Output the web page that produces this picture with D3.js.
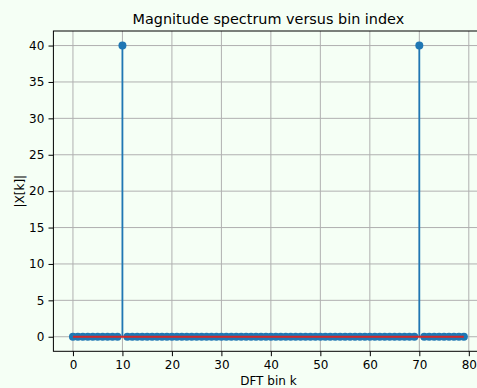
<!DOCTYPE html>
<html><head><meta charset="utf-8">
<script src="https://cdn.jsdelivr.net/npm/d3@7"></script>
<style>
html,body{margin:0;padding:0;background:#f5fff5;}
svg{display:block;font-family:"DejaVu Sans",sans-serif;}
</style></head>
<body><svg id="c" width="477" height="388"></svg>
<script>
const title = "Magnitude spectrum versus bin index";
const xLabel = "DFT bin k";
const yLabel = "|X[k]|";
const bins = d3.range(0, 80);
const peakBins = [10, 70];
const peakValue = 40;
const magnitudes = bins.map(k => peakBins.includes(k) ? peakValue : 0);
const xTicks = [0, 10, 20, 30, 40, 50, 60, 70, 80];
const yTicks = [0, 5, 10, 15, 20, 25, 30, 35, 40];

const svg = d3.select("#c");
const L = 53.4, R = 483.4, T = 31, B = 351.3;
const x = d3.scaleLinear().domain([-3.95, 82.95]).range([L, R]);
const y = d3.scaleLinear().domain([-2, 42]).range([B, T]);

svg.append("rect").attr("width", 477).attr("height", 388).attr("fill", "#f5fff5");

// grid
const g = svg.append("g");
g.selectAll(".gx").data(xTicks).join("line")
  .attr("x1", d => x(d)).attr("x2", d => x(d)).attr("y1", T).attr("y2", B)
  .attr("stroke", "#b0b0b0").attr("stroke-width", 1);
g.selectAll(".gy").data(yTicks).join("line")
  .attr("y1", d => y(d)).attr("y2", d => y(d)).attr("x1", L).attr("x2", R)
  .attr("stroke", "#b0b0b0").attr("stroke-width", 1);

// stems
svg.append("g").selectAll("line").data(bins).join("line")
  .attr("x1", d => x(d)).attr("x2", d => x(d))
  .attr("y1", y(0)).attr("y2", (d, i) => y(magnitudes[i]))
  .attr("stroke", "#1f77b4").attr("stroke-width", 1.8);

// markers
svg.append("g").selectAll("circle").data(bins).join("circle")
  .attr("cx", d => x(d)).attr("cy", (d, i) => y(magnitudes[i]))
  .attr("r", 4).attr("fill", "#1f77b4");

// baseline
svg.append("line")
  .attr("x1", x(bins[0])).attr("x2", x(bins[bins.length - 1]))
  .attr("y1", y(0)).attr("y2", y(0))
  .attr("stroke", "#d62728").attr("stroke-width", 1.8);

// axes
const xAxis = d3.axisBottom(x).tickValues(xTicks).tickSize(4.9).tickPadding(4.2);
const yAxis = d3.axisLeft(y).tickValues(yTicks).tickSize(4.9).tickPadding(4.2);
const gx = svg.append("g").attr("transform", `translate(0,${B})`).call(xAxis);
const gy = svg.append("g").attr("transform", `translate(${L},0)`).call(yAxis);
[gx, gy].forEach(a => {
  a.select(".domain").remove();
  a.selectAll("line").attr("stroke", "#000").attr("stroke-width", 1);
  a.selectAll("text").attr("fill", "#000").style("font-size", "12px").style("font-family", "DejaVu Sans");
});
// spines
svg.append("rect").attr("x", L).attr("y", T).attr("width", R - L).attr("height", B - T)
  .attr("fill", "none").attr("stroke", "#000").attr("stroke-width", 1);

svg.append("text").attr("x", (L + R) / 2).attr("y", 24).attr("text-anchor", "middle")
  .style("font-size", "14.4px").text(title);
svg.append("text").attr("x", (L + R) / 2).attr("y", 384.5).attr("text-anchor", "middle")
  .style("font-size", "12px").text(xLabel);
svg.append("text").attr("transform", `translate(24,${(T + B) / 2}) rotate(-90)`)
  .attr("text-anchor", "middle").style("font-size", "12px").text(yLabel);
</script></body></html>
